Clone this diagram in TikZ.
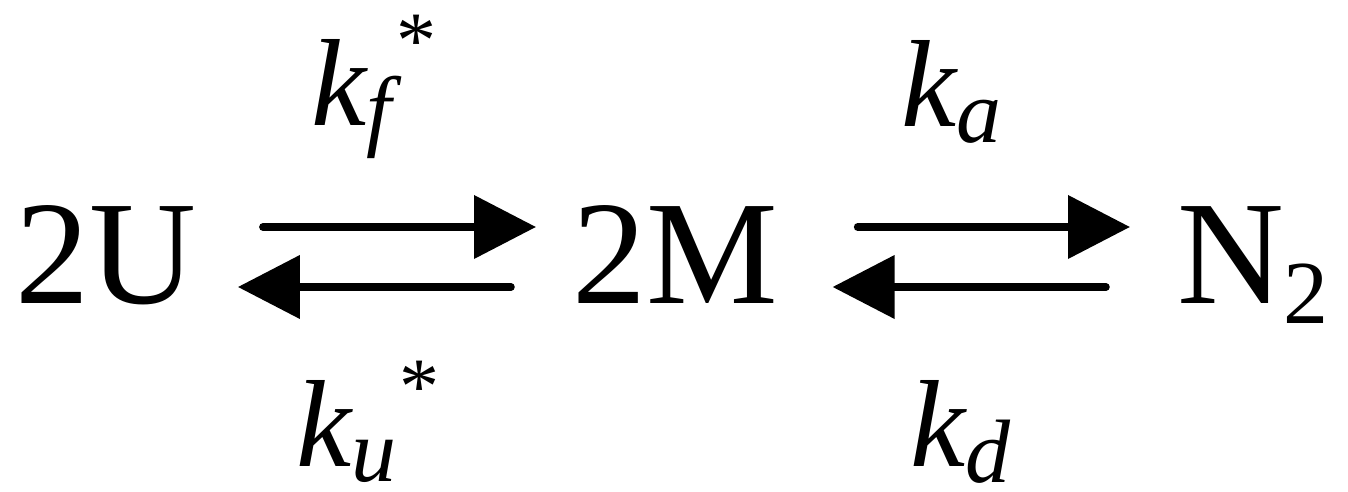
\documentclass[tikz,border=0pt]{standalone}
\usepackage{fontspec}
\setmainfont{Liberation Serif}
\usetikzlibrary{arrows.meta}
\newcommand{\lowsub}[2]{\raisebox{-#1}{\fontsize{18}{18}\selectfont #2}}
\newcommand{\highstar}[2]{\kern#1\raisebox{#2}{\upshape\fontsize{16}{16}\selectfont *}}
\tikzset{
  species/.style = {
    font=\fontsize{29.6}{32}\selectfont, 
    inner sep=0pt, 
    anchor=base west
  },
  rate/.style = {
    font=\fontsize{24.8}{26}\selectfont\itshape, 
    inner sep=0pt, 
    anchor=base west
  },
  reaction/.style = {
    -{Triangle[length=12.4pt, width=12.4pt]}, 
    line width=1.5pt, 
    line cap=round
  }
}
\begin{document}
\begin{tikzpicture}[x=0.2pt, y=-0.2pt]
  \useasboundingbox (0,0) rectangle (1348,492);

  % Species
  \node[species] (u) at (14,304) {2U};
  \node[species] (m) at (571,304) {2M};
  \node[species] (n) at (1176,304) {N\lowsub{4pt}{2}};

  % Rate constants
  \node[rate] (kf) at (310,126) {k\lowsub{2.8pt}{f}\highstar{1pt}{11.6pt}};
  \node[rate] (ku) at (295,466) {k\lowsub{3pt}{u}\highstar{0.6pt}{10.6pt}};
  \node[rate] (ka) at (900,127) {k\lowsub{3.2pt}{a}};
  \node[rate] (kd) at (909,467) {k\lowsub{3.2pt}{d}};

  % Folding / unfolding
  \draw[reaction, shorten <=13.2pt, shorten >=7pt] (u.east |- 0,227) -- (m.west |- 0,227);
  \draw[reaction, shorten <=12pt, shorten >=8.2pt] (m.west |- 0,287) -- (u.east |- 0,287);

  % Association / dissociation
  \draw[reaction, shorten <=15.8pt, shorten >=9.2pt] (m.east |- 0,227) -- (n.west |- 0,227);
  \draw[reaction, shorten <=14pt, shorten >=10.8pt] (n.west |- 0,287) -- (m.east |- 0,287);
\end{tikzpicture}
\end{document}
